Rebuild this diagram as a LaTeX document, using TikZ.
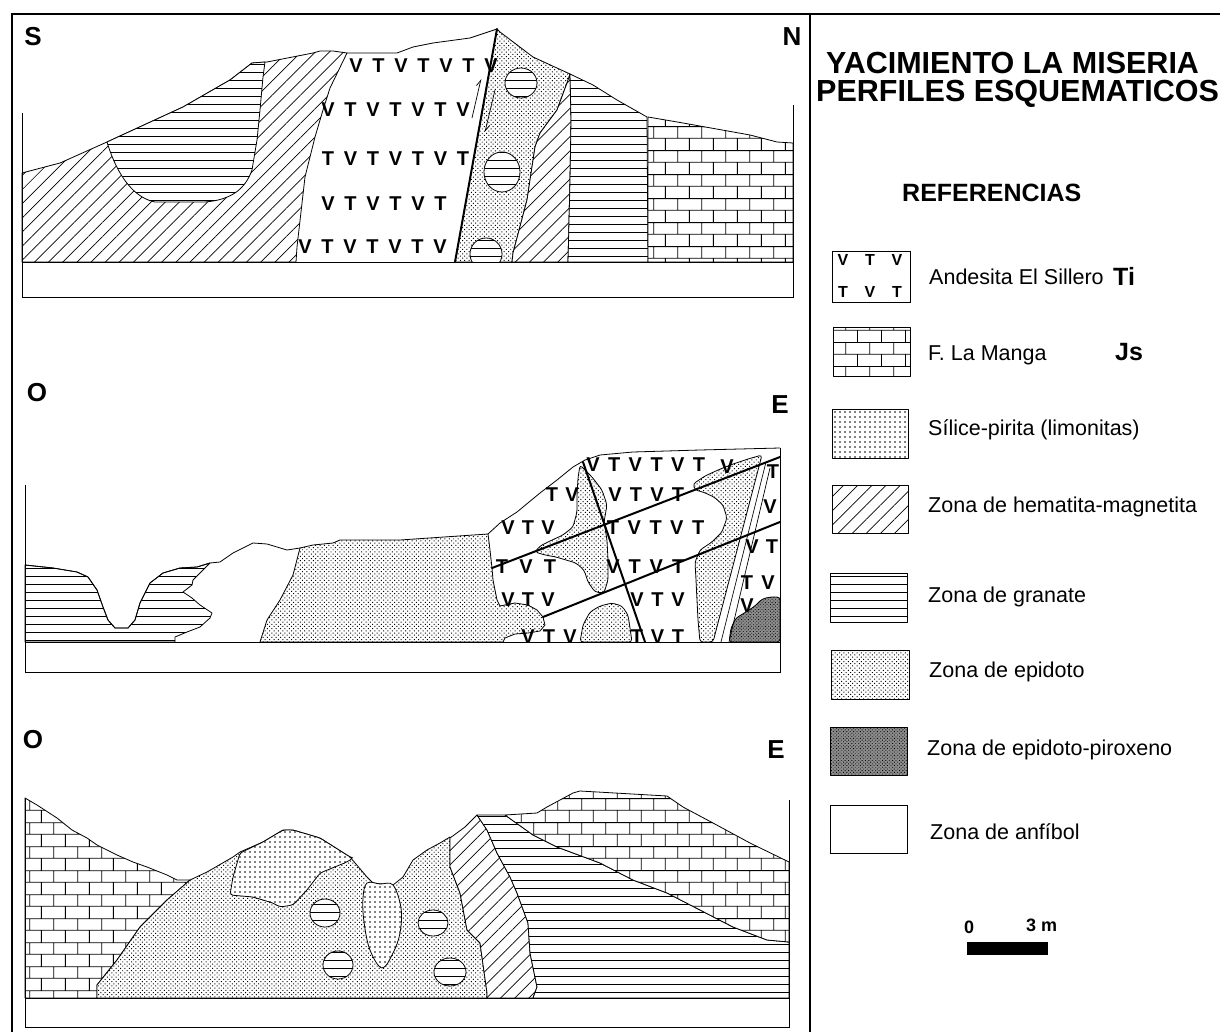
\documentclass[tikz,border=0pt]{standalone}
\usepackage{fontspec}
\setmainfont{Liberation Sans}
\usetikzlibrary{patterns,patterns.meta,arrows.meta}

% limestone brick texture: rows 12pt high, bricks 24pt long, half offset
\pgfdeclarepatternformonly{brickwall}{\pgfpoint{0pt}{0pt}}{\pgfpoint{24pt}{24pt}}{\pgfpoint{24pt}{24pt}}{%
  \pgfsetlinewidth{0.8pt}%
  \pgfpathmoveto{\pgfpoint{-1pt}{6pt}}\pgfpathlineto{\pgfpoint{25pt}{6pt}}%
  \pgfpathmoveto{\pgfpoint{-1pt}{18pt}}\pgfpathlineto{\pgfpoint{25pt}{18pt}}%
  \pgfpathmoveto{\pgfpoint{6pt}{6pt}}\pgfpathlineto{\pgfpoint{6pt}{18pt}}%
  \pgfpathmoveto{\pgfpoint{18pt}{18pt}}\pgfpathlineto{\pgfpoint{18pt}{25pt}}%
  \pgfpathmoveto{\pgfpoint{18pt}{-1pt}}\pgfpathlineto{\pgfpoint{18pt}{6pt}}%
  \pgfusepath{stroke}}

\tikzset{
  bnd/.style={draw=black, line width=0.8pt, line join=round},
  garnet/.style={bnd, preaction={fill=white}, pattern={Lines[angle=0,distance=8pt,line width=0.75pt]}},
  hema/.style={bnd, preaction={fill=white}, pattern={Lines[angle=45,distance=10pt,line width=0.7pt]}},
  epid/.style={bnd, preaction={fill=white}, pattern={Dots[angle=45,distance=3.1pt,radius=0.7pt]}},
  silice/.style={bnd, preaction={fill=white}, pattern={Dots[distance=5pt,radius=0.8pt]}},
  brick/.style={bnd, preaction={fill=white}, pattern=brickwall},
  epipx/.style={bnd, preaction={fill=black!45}, pattern={Dots[angle=45,distance=2.4pt,radius=0.6pt]}},
  fault/.style={line width=2pt, line cap=round},
  frm/.style={line width=0.9pt},
  vt/.style={font=\bfseries\fontsize{20}{20}\selectfont, inner sep=0pt},
  vtsmall/.style={font=\bfseries\fontsize{16}{16}\selectfont, inner sep=0pt},
  lab/.style={font=\bfseries\fontsize{26}{26}\selectfont, inner sep=0pt},
  leg/.style={font=\fontsize{21.5}{22}\selectfont, anchor=west, inner sep=0pt},
  legbox/.style={line width=0.9pt},
}

% a row of V/T letters at a fixed pitch: name, first x, y, pitch, letters
\newcommand{\vtline}[5]{%
  \foreach \ch [count=\k from 0] in {#5}
    \node[vt] (#1\k) at ({#2+\k*#4},#3) {\ch};}

\begin{document}
\begin{tikzpicture}[x=1pt,y=-1pt]
\useasboundingbox (0,0) rectangle (1220,1032);
\fill[white] (0,0) rectangle (1220,1032);

% ---------------- outer frame ----------------
\draw[line width=2pt] (12,1034) -- (12,14) -- (1222,14);
\draw[line width=1.5pt] (810,14) -- (810,1034);

% ================= profile S-N =================
\path[hema] (22,262) -- (22,173) -- (60,163) -- (107,142) -- (183,107) -- (230,80) -- (252,63)
  -- (267,62) -- (313,53) -- (320,51) -- (333,51) -- (347,53) -- (330,88) -- (323,110)
  -- (315,137) -- (305,177) -- (297,247) -- (296,262) -- cycle;
\path[garnet] (107,142) -- (183,107) -- (230,80) -- (252,63) -- (265,62)
  -- (263,77) -- (260,110) -- (257,140) -- (252,170) .. controls (245,190) and (230,200) .. (205,202)
  -- (155,202) .. controls (135,198) and (118,178) .. (107,142) -- cycle;
\path[epid] (497,29) -- (500,32) -- (533,57) -- (570,74) -- (567,83) -- (557,110) -- (540,133)
  -- (535,147) -- (527,200) -- (513,253) -- (512,262) -- (455,262) -- cycle;
\path[garnet] (521,83) ellipse [x radius=16, y radius=15];
\path[garnet] (502,172) ellipse [x radius=18, y radius=20];
\begin{scope}
  \clip (440,200) rectangle (520,262);
  \path[garnet] (486,254) ellipse [x radius=16, y radius=16];
\end{scope}
\path[hema] (570,74) -- (571,120) -- (570,180) -- (568,262) -- (512,262) -- (513,253) -- (527,200)
  -- (535,147) -- (540,133) -- (557,110) -- (567,83) -- cycle;
\path[garnet] (570,74) -- (593,85) -- (617,100) -- (647,117) -- (648,262) -- (568,262)
  -- (570,180) -- (571,120) -- cycle;
\path[brick] (648,117) -- (683,123) -- (750,135) -- (777,142) -- (793,143) -- (793,262)
  -- (648,262) -- cycle;
\draw[bnd] (347,53) -- (397,53) -- (413,47) -- (433,43) -- (470,38) -- (497,29);
\draw[fault] (497,29) -- (455,262);
\draw[frm] (22,113) -- (22,297) -- (793,297) -- (793,105);
\draw[frm] (22,262) -- (793,262);
% movement on the fault
\coordinate (ma1) at (472,118); \coordinate (ma2) at (481,79);
\coordinate (mb1) at (495,90);  \coordinate (mb2) at (485,132);
\draw[line width=0.7pt, -{Straight Barb[left, length=6pt, width=6pt]}] (ma1) -- (ma2);
\draw[line width=0.7pt, -{Straight Barb[left, length=6pt, width=6pt]}] (mb1) -- (mb2);
% andesite letters
\vtline{sa}{356}{66}{22.5}{V,T,V,T,V,T,V}
\vtline{sb}{328}{110}{22.5}{V,T,V,T,V,T,V}
\vtline{sc}{328}{159}{22.5}{T,V,T,V,T,V,T}
\vtline{sd}{328}{204}{22.5}{V,T,V,T,V,T}
\vtline{se}{305}{247}{22.5}{V,T,V,T,V,T,V}
\node[lab] (lS) at (33,37) {S};
\node[lab] (lN) at (792,37) {N};

% ================= profile O-E (middle) =================
\path[garnet] (25,565) -- (53,568) -- (77,572) -- (88,577) -- (97,590) -- (103,607) -- (108,620)
  -- (115,628) -- (128,628) -- (135,620) -- (140,603) -- (150,583) -- (163,573) -- (180,568)
  -- (197,567) -- (210,563) -- (193,580) -- (192,585) -- (183,592) -- (192,598) -- (200,605)
  -- (212,613) -- (210,618) -- (200,627) -- (187,632) -- (175,637) -- (175,642) -- (25,642) -- cycle;
\path[epid] (300,548) -- (313,545) -- (333,543) -- (340,540) -- (400,540) -- (488,534) -- (490,550)
  -- (492,568) -- (493,580) -- (497,600) -- (500,606) -- (515,603) -- (528,605) -- (537,610)
  -- (543,617) -- (545,625) -- (540,631) -- (528,633) -- (515,634) -- (505,638) -- (503,642)
  -- (260,642) -- (267,620) -- (280,600) -- (293,575) -- cycle;
\draw[bnd] (210,563) -- (220,562) -- (233,553) -- (253,543) -- (267,544) -- (287,550) -- (300,548);
\draw[bnd] (488,534) -- (500,523) -- (517,512) -- (540,493) -- (557,480) -- (573,467) -- (585,460)
  -- (600,455) -- (633,452) -- (700,450) -- (780,448);
% alteration patches inside the andesite
\path[epid, rounded corners=3pt] (580,465) -- (592,477) -- (602,490) -- (607,505) -- (604,522)
  -- (607,540) -- (608,560) -- (608,580) -- (604,593) -- (595,592) -- (588,582) -- (584,570)
  -- (576,563) -- (566,560) -- (556,557) -- (545,555) -- (535,552) -- (540,546) -- (550,541)
  -- (563,535) -- (573,527) -- (577,512) -- (577,495) -- (578,478) -- cycle;
\path[epid, rounded corners=3pt] (580,642) -- (583,625) -- (590,612) -- (600,606) -- (612,603)
  -- (622,606) -- (628,615) -- (630,628) -- (632,642) -- cycle;
\path[epid, rounded corners=3pt] (693,484) -- (705,476) -- (718,470) -- (733,464) -- (748,459)
  -- (762,455) -- (713,642) -- (700,642) -- (698,620) -- (697,600) -- (696,580) -- (695,562)
  -- (700,550) -- (712,542) -- (722,532) -- (727,518) -- (723,505) -- (714,497) -- (703,492)
  -- (695,490) -- cycle;
\path[epipx, rounded corners=3pt] (729,642) -- (731,628) -- (736,618) -- (746,612) -- (755,606)
  -- (762,599) -- (770,597) -- (780,597) -- (780,642) -- cycle;
% dykes and faults
\draw[line width=0.7pt] (766,462) -- (721,642);
\draw[line width=0.7pt] (770,468) -- (729,642);
\draw[fault] (583,462) -- (645,642);
\draw[fault] (492,568) -- (780,457);
\draw[fault] (543,617) -- (780,522);
\begin{scope}
  \clip (480,440) rectangle (780,642);
  \vtline{ma}{593}{465}{21.2}{V,T,V,T,V,T}
  \node[vt] (ma6) at (727,467) {V};
  \vtline{mb}{552}{495}{20}{T,V}
  \vtline{mbb}{615}{495}{21}{V,T,V,T}
  \vtline{mc}{508}{528}{20}{V,T,V}
  \vtline{mcc}{613}{528}{21.3}{T,V,T,V,T}
  \vtline{md}{502}{567}{24}{T,V,T}
  \vtline{mdd}{613}{567}{21.7}{V,T,V,T}
  \vtline{me}{508}{600}{20}{V,T,V}
  \vtline{mee}{637}{600}{20.5}{V,T,V}
  \vtline{mf}{528}{637}{21}{V,T,V}
  \vtline{mff}{637}{637}{20.5}{T,V,T}
  \node[vt] (mr1) at (773,472) {T};
  \node[vt] (mr2) at (770,507) {V};
  \node[vt] (mr3) at (752,547) {V};
  \node[vt] (mr4) at (772,547) {T};
  \node[vt] (mr5) at (747,583) {T};
  \node[vt] (mr6) at (768,583) {V};
  \node[vt] (mr7) at (747,606) {V};
\end{scope}
\draw[bnd] (25,565) -- (53,568) -- (77,572) -- (88,577) -- (97,590) -- (103,607) -- (108,620)
  -- (115,628) -- (128,628) -- (135,620) -- (140,603) -- (150,583) -- (163,573) -- (180,568)
  -- (197,567) -- (210,563);
\draw[frm] (25,485) -- (25,672) -- (780,672) -- (780,448);
\draw[frm] (25,642) -- (780,642);
\node[lab] (lO1) at (37,393) {O};
\node[lab] (lE1) at (780,405) {E};

% ================= profile O-E (bottom) =================
\path[brick] (25,798) -- (37,805) -- (57,818) -- (72,830) -- (87,838) -- (97,845) -- (117,855)
  -- (133,862) -- (147,867) -- (167,875) -- (177,880) -- (190,880) -- (167,900) -- (140,927)
  -- (117,960) -- (97,985) -- (97,998) -- (25,998) -- cycle;
\path[epid] (97,998) -- (97,985) -- (117,960) -- (140,927) -- (167,900) -- (190,880) -- (207,872)
  -- (233,857) -- (240,852) -- (263,842) -- (283,830) -- (293,830) -- (320,838) -- (350,857)
  -- (367,877) -- (373,883) -- (393,885) -- (403,877) -- (413,860) -- (427,850) -- (440,843)
  -- (450,837) -- (450,867) -- (460,893) -- (467,930) -- (480,943) -- (487,993) -- (487,998) -- cycle;
\path[silice, rounded corners=3pt] (240,853) -- (233,877) -- (230,895) -- (253,897) -- (273,903)
  -- (280,907) -- (293,905) -- (307,890) -- (320,873) -- (347,862) -- (353,858) -- (350,857)
  -- (320,838) -- (293,830) -- (283,830) -- (263,842) -- cycle;
\path[silice] plot[smooth cycle, tension=0.6] coordinates {(367,883) (380,884) (393,885) (401,908)
  (400,933) (393,953) (382,968) (370,950) (364,922) (363,898)};
\path[garnet] (325,913) ellipse [x radius=15, y radius=14];
\path[garnet] (338,965) ellipse [x radius=15, y radius=14];
\path[garnet] (433,923) ellipse [x radius=15, y radius=13];
\path[garnet] (450,972) ellipse [x radius=16, y radius=14];
\path[hema] (450,838) -- (465,827) -- (477,815) -- (487,830) -- (497,853) -- (510,877) -- (517,893)
  -- (528,923) -- (530,953) -- (537,987) -- (533,998) -- (487,998) -- (487,993) -- (480,943)
  -- (467,930) -- (460,893) -- (450,867) -- cycle;
\path[garnet] (477,815) -- (505,815) -- (533,835) -- (557,847) -- (600,863) -- (633,880) -- (667,893)
  -- (700,910) -- (733,927) -- (767,940) -- (789,942) -- (789,998) -- (533,998) -- (537,987)
  -- (530,953) -- (528,923) -- (517,893) -- (510,877) -- (497,853) -- (487,830) -- cycle;
\path[brick] (505,815) -- (537,813) -- (547,807) -- (573,793) -- (580,791) -- (667,796) -- (683,807)
  -- (713,823) -- (750,843) -- (789,862) -- (789,942) -- (767,940) -- (733,927) -- (700,910)
  -- (667,893) -- (633,880) -- (600,863) -- (557,847) -- (533,835) -- cycle;
\draw[frm] (25,798) -- (25,1027) -- (789,1027) -- (789,800);
\draw[frm] (25,998) -- (789,998);
\node[lab] (lO2) at (33,740) {O};
\node[lab] (lE2) at (776,750) {E};

% ================= title and legend =================
\node[anchor=west, inner sep=0pt, font=\bfseries\fontsize{30.5}{31}\selectfont] (t1) at (826,63) {YACIMIENTO LA MISERIA};
\node[anchor=west, inner sep=0pt, font=\bfseries\fontsize{30.5}{31}\selectfont] (t2) at (816,94) {PERFILES ESQUEMATICOS};
\node[anchor=west, inner sep=0pt, font=\bfseries\fontsize{25}{25}\selectfont] (ref) at (902,193) {REFERENCIAS};

\draw[legbox] (832,251) rectangle (910,302);
\node[vtsmall] (k1) at (843,260) {V};
\node[vtsmall] (k2) at (870,260) {T};
\node[vtsmall] (k3) at (897,260) {V};
\node[vtsmall] (k4) at (843,292) {T};
\node[vtsmall] (k5) at (870,292) {V};
\node[vtsmall] (k6) at (897,292) {T};
\node[leg] (e1) at (929,277) {Andesita El Sillero};
\node[lab, anchor=west, font=\bfseries\fontsize{25}{25}\selectfont] (e1b) at (1113,276) {Ti};

\path[brick, legbox] (833,327) rectangle (910,376);
\node[leg] (e2) at (928,355) {F. La Manga};
\node[lab, anchor=west, font=\bfseries\fontsize{25}{25}\selectfont] (e2b) at (1115,352) {Js};

\path[silice, legbox] (832,409) rectangle (908,458);
\node[leg] (e3) at (928,430) {Sílice-pirita (limonitas)};

\path[hema, legbox] (832,485) rectangle (908,533);
\node[leg] (e4) at (928,507) {Zona de hematita-magnetita};

\path[garnet, legbox] (830,573) rectangle (907,622);
\node[leg] (e5) at (928,597) {Zona de granate};

\path[epid, legbox] (831,650) rectangle (909,699);
\node[leg] (e6) at (929,672) {Zona de epidoto};

\path[epipx, legbox] (830,727) rectangle (907,775);
\node[leg] (e7) at (927,750) {Zona de epidoto-piroxeno};

\draw[legbox] (830,805) rectangle (907,853);
\node[leg] (e8) at (930,832) {Zona de anfíbol};

% scale bar
\fill (967,942) rectangle (1048,955);
\node[inner sep=0pt, font=\bfseries\fontsize{18}{18}\selectfont] (s0) at (969,927) {0};
\node[inner sep=0pt, anchor=west, font=\bfseries\fontsize{18}{18}\selectfont] (s3) at (1026,925) {3 m};
\end{tikzpicture}
\end{document}
